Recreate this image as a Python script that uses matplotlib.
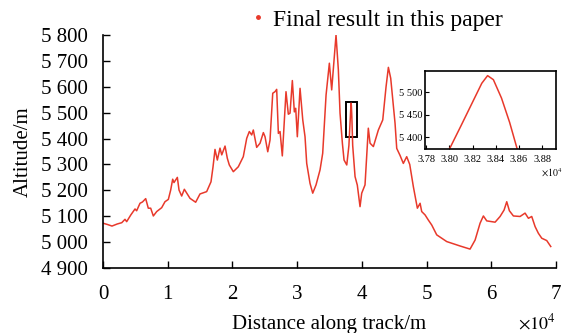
import numpy as np
import matplotlib
matplotlib.use("Agg")
import matplotlib.pyplot as plt
from matplotlib.lines import Line2D
from matplotlib.patches import Rectangle

plt.rcParams['font.family'] = ['Liberation Serif', 'DejaVu Serif']
plt.rcParams['mathtext.fontset'] = 'stix'

# track profile (distance in m, altitude in m)
dist = [0, 700, 1390, 2200, 2900, 3400, 3660, 4300, 4950, 5200, 5720, 6100, 6600,
        7000, 7370, 7780, 8300, 9070, 9580, 10100, 10460, 10770, 10970, 11490,
        11750, 12160, 12570, 13450, 14320, 14990, 16020, 16690, 17000, 17310,
        17670, 18080, 18350, 18860, 19210, 19520, 20140, 20910, 21680, 22210,
        22610, 22980, 23230, 23750, 24270, 24780, 25040, 25460, 25810, 26230,
        26580, 26840, 27100, 27360, 27710, 28280, 28640, 28900, 29260, 29570,
        29780, 30030, 30450, 30870, 31220, 31480, 31990, 32410, 32920, 33540,
        33950, 34470, 34980, 35340, 36010, 36370, 36630, 37000, 37250, 37670,
        38000, 38100, 38200, 38280, 38330, 38380, 38450, 38520, 38586, 38950,
        39300, 39720, 39980, 40490, 41000, 41270, 41780, 42550, 43230, 43740,
        44100, 44460, 45130, 45390, 45900, 46410, 46930, 47400, 47960, 48580,
        49000, 49250, 49770, 50280, 50800, 51570, 53120, 55180, 56720, 57500,
        58270, 58780, 59300, 60590, 61360, 61980, 62390, 62800, 63420, 64450,
        65220, 65740, 66250, 66770, 67280, 67800, 68570, 69190]
alt = [5073, 5068, 5062, 5070, 5075, 5088, 5079, 5105, 5128, 5121, 5150, 5155, 5168,
       5131, 5131, 5101, 5118, 5133, 5156, 5165, 5201, 5243, 5230, 5250,
       5201, 5178, 5204, 5169, 5154, 5186, 5195, 5233, 5290, 5358,
       5317, 5363, 5337, 5371, 5324, 5298, 5272, 5291, 5330, 5401,
       5427, 5414, 5433, 5366, 5382, 5423, 5407, 5349, 5394, 5575,
       5581, 5590, 5420, 5427, 5333, 5581, 5494, 5498, 5624, 5503,
       5517, 5407, 5594, 5472, 5407, 5304, 5227, 5189, 5221, 5279,
       5343, 5568, 5691, 5588, 5800, 5665, 5498, 5380, 5317, 5298,
       5373, 5425, 5478, 5520, 5537, 5528, 5487, 5433, 5373, 5253,
       5220, 5137, 5189, 5221, 5440, 5382, 5369, 5433, 5472, 5600,
       5675, 5633, 5459, 5362, 5335, 5304, 5330, 5300, 5214, 5131,
       5150, 5118, 5105, 5085, 5066, 5028, 5002, 4985, 4973, 5008,
       5073, 5101, 5082, 5077, 5099, 5124, 5156, 5121, 5101, 5099,
       5112, 5092, 5099, 5060, 5034, 5015, 5006, 4983]

yticks = [4900, 5000, 5100, 5200, 5300, 5400, 5500, 5600, 5700, 5800]
xticks = [0, 10000, 20000, 30000, 40000, 50000, 60000, 70000]
inset_xticks = [37800, 38000, 38200, 38400, 38600, 38800]
inset_yticks = [5400, 5450, 5500]
box = (37510, 5405, 1700, 137)  # zoomed window marker

red = '#e8392b'

fig = plt.figure(figsize=(5.64, 3.33), dpi=100)
ax = fig.add_axes([0.1826, 0.1952, 0.8032, 0.6997])
ax.plot(dist, alt, color=red, lw=1.1)
ax.set_xlim(0, 70000)
ax.set_ylim(4900, 5800)
ax.set_xticks(xticks)
ax.set_xticklabels([str(x // 10000) for x in xticks])
ax.set_yticks(yticks)
ax.set_yticklabels(['%d %03d' % (y // 1000, y % 1000) for y in yticks])
ax.tick_params(direction='in', labelsize=15, length=5, width=1)
ax.tick_params(axis='x', pad=12)
ax.tick_params(axis='y', pad=11)
for s in ['top', 'right']:
    ax.spines[s].set_visible(False)
for s in ['left', 'bottom']:
    ax.spines[s].set_linewidth(1.2)
ax.set_xlabel('Distance along track/m', fontsize=15, labelpad=8)
ax.set_ylabel('Altitude/m', fontsize=15, labelpad=6)
ax.text(1.0, -0.235, r'$\times 10^4$', transform=ax.transAxes, fontsize=13,
        ha='right', va='center')
ax.add_patch(Rectangle(box[:2], box[2], box[3], fill=False, ec='black', lw=1.4))

handle = Line2D([], [], color=red, marker='.', ls='none', markersize=5)
fig.legend([handle], ['Final result in this paper'], loc='center',
           bbox_to_anchor=(0.664, 0.94), frameon=False, fontsize=17,
           handletextpad=0.1, handlelength=1.0)

# inset
ins = fig.add_axes([0.7535, 0.5517, 0.2323, 0.236])
ins.plot(dist, alt, color=red, lw=1.1)
ins.set_xlim(37790, 38920)
ins.set_ylim(5373, 5548)
ins.set_xticks(inset_xticks)
ins.set_xticklabels(['%.2f' % (x / 10000) for x in inset_xticks])
ins.set_yticks(inset_yticks)
ins.set_yticklabels(['%d %03d' % (y // 1000, y % 1000) for y in inset_yticks])
ins.tick_params(direction='in', labelsize=7.5, length=3)
ins.tick_params(axis='x', pad=4)
ins.tick_params(axis='y', pad=2)
for s in ins.spines.values():
    s.set_linewidth(1.2)
ins.text(1.046, -0.3, r'$\times 10^4$', transform=ins.transAxes, fontsize=7,
         ha='right', va='center')

fig.savefig('out.png', dpi=100)
